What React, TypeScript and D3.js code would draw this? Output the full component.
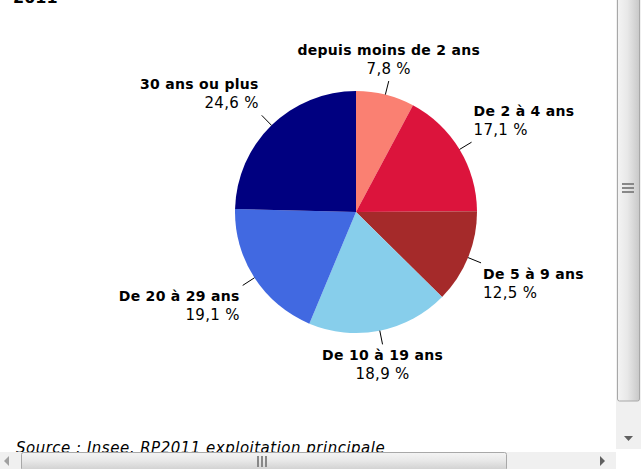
import React, { useEffect, useRef } from 'react';
import * as d3 from 'd3';

const categories = [
  'depuis moins de 2 ans',
  'De 2 à 4 ans',
  'De 5 à 9 ans',
  'De 10 à 19 ans',
  'De 20 à 29 ans',
  '30 ans ou plus',
];
const shares = [7.8, 17.1, 12.5, 18.9, 19.1, 24.6];
const colors = ['#fa8072', '#dc143c', '#a52a2a', '#87ceeb', '#4169e1', '#000080'];

const titleText = '2011';
const sourceText = 'Source : Insee, RP2011 exploitation principale';

interface Slice {
  name: string;
  value: number;
  color: string;
}

const W = 643;
const H = 469;
const FONT = '"DejaVu Sans", Verdana, sans-serif';

const App: React.FC = () => {
  const ref = useRef<SVGSVGElement>(null);

  useEffect(() => {
    const svg = d3.select(ref.current);
    svg.selectAll('*').remove();

    const data: Slice[] = categories.map((c, i) => ({ name: c, value: shares[i], color: colors[i] }));

    const cx = 356;
    const cy = 212;
    const radius = 121;

    // titre coupé en haut
    svg.append('text')
      .attr('x', 13)
      .attr('y', 3)
      .style('font-family', FONT)
      .style('font-size', '16px')
      .style('font-weight', 'bold')
      .text(titleText);

    const g = svg.append('g').attr('transform', `translate(${cx},${cy})`);

    const pie = d3.pie<Slice>().sort(null).value(d => d.value);
    const arcs = pie(data);
    const arc = d3.arc<d3.PieArcDatum<Slice>>().innerRadius(0).outerRadius(radius);

    g.selectAll('path.slice')
      .data(arcs)
      .enter()
      .append('path')
      .attr('class', 'slice')
      .attr('d', arc)
      .attr('fill', d => d.data.color);

    // lignes de rappel + étiquettes
    arcs.forEach(a => {
      const mid = (a.startAngle + a.endAngle) / 2;
      const s = Math.sin(mid);
      const c = Math.cos(mid);
      const x1 = s * radius;
      const y1 = -c * radius;
      const x2 = s * (radius + 14);
      const y2 = -c * (radius + 14);

      g.append('line')
        .attr('x1', x1).attr('y1', y1)
        .attr('x2', x2).attr('y2', y2)
        .attr('stroke', '#000')
        .attr('stroke-width', 1);

      let anchor = 'middle';
      let tx = x2;
      if (s > 0.3) { anchor = 'start'; tx = x2 + 2; }
      else if (s < -0.3) { anchor = 'end'; tx = x2 - 3; }

      let nameY: number;
      if (c > 0) nameY = y2 - 7 - 19;
      else nameY = y2 + 16;

      g.append('text')
        .attr('x', tx)
        .attr('y', nameY)
        .attr('text-anchor', anchor)
        .style('font-family', FONT)
        .style('font-size', '14px')
        .style('font-weight', 'bold')
        .style('letter-spacing', '0.3px')
        .text(a.data.name);

      g.append('text')
        .attr('x', tx)
        .attr('y', nameY + 19)
        .attr('text-anchor', anchor)
        .style('font-family', FONT)
        .style('font-size', '15px')
        .style('letter-spacing', '0.3px')
        .text(`${String(a.data.value.toFixed(1)).replace('.', ',')} %`);
    });

    // source, coupée par la barre horizontale
    svg.append('text')
      .attr('x', 16)
      .attr('y', 453)
      .style('font-family', FONT)
      .style('font-size', '15px')
      .style('font-style', 'italic')
      .style('letter-spacing', '0.5px')
      .text(sourceText);

    // barres de défilement
    const defs = svg.append('defs');
    const vg = defs.append('linearGradient').attr('id', 'vthumb').attr('x1', 0).attr('x2', 1).attr('y1', 0).attr('y2', 0);
    vg.append('stop').attr('offset', '0%').attr('stop-color', '#f4f4f4');
    vg.append('stop').attr('offset', '45%').attr('stop-color', '#e8e8e8');
    vg.append('stop').attr('offset', '100%').attr('stop-color', '#c8c8c8');
    const hg = defs.append('linearGradient').attr('id', 'hthumb').attr('x1', 0).attr('x2', 0).attr('y1', 0).attr('y2', 1);
    hg.append('stop').attr('offset', '0%').attr('stop-color', '#f4f4f4');
    hg.append('stop').attr('offset', '45%').attr('stop-color', '#e8e8e8');
    hg.append('stop').attr('offset', '100%').attr('stop-color', '#cfcfcf');

    const sb = svg.append('g');
    // verticale
    sb.append('rect').attr('x', 616).attr('y', 0).attr('width', 25).attr('height', 449).attr('fill', '#f0f0f0');
    sb.append('rect').attr('x', 617.5).attr('y', -2).attr('width', 22).attr('height', 403)
      .attr('rx', 2).attr('fill', 'url(#vthumb)').attr('stroke', '#a8a8a8');
    [0, 4, 8].forEach(d => {
      sb.append('rect').attr('x', 622).attr('y', 183 + d).attr('width', 12).attr('height', 2).attr('fill', '#888');
    });
    sb.append('path').attr('d', 'M624,436 L633,436 L628.5,441 Z').attr('fill', '#606060');
    // horizontale
    sb.append('rect').attr('x', 0).attr('y', 452).attr('width', 616).attr('height', 17).attr('fill', '#f0f0f0');
    sb.append('rect').attr('x', 21.5).attr('y', 452.5).attr('width', 485).attr('height', 18)
      .attr('rx', 2).attr('fill', 'url(#hthumb)').attr('stroke', '#a8a8a8');
    [0, 4, 8].forEach(d => {
      sb.append('rect').attr('x', 257 + d).attr('y', 456).attr('width', 2).attr('height', 11).attr('fill', '#888');
    });
    sb.append('path').attr('d', 'M9,456 L9,466 L4,461 Z').attr('fill', '#a0a0a0');
    sb.append('path').attr('d', 'M600,456 L600,466 L605,461 Z').attr('fill', '#606060');
  }, []);

  return (
    <svg
      ref={ref}
      width={W}
      height={H}
      style={{ position: 'absolute', left: 0, top: 0, background: '#fff' }}
    />
  );
};

export default App;
